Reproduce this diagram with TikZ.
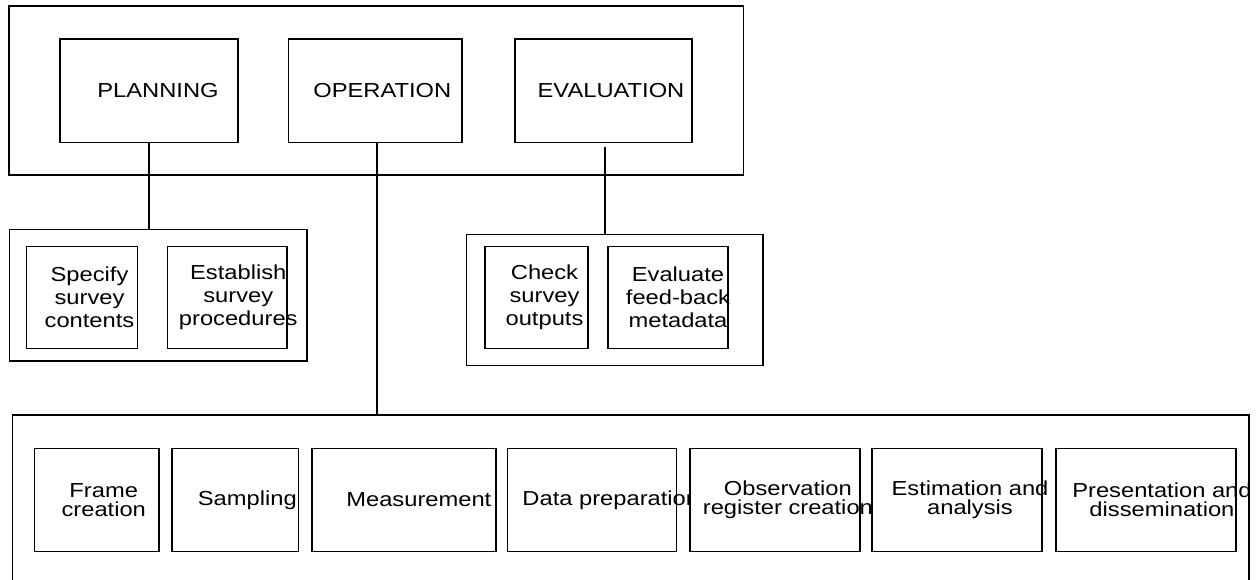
\documentclass[tikz,border=0pt]{standalone}
\usepackage{fontspec}
\setmainfont[FakeStretch=1.17]{Liberation Sans}
\usetikzlibrary{fit,calc}
\begin{document}
\begin{tikzpicture}[x=0.75pt,y=-0.75pt,
  box/.style={draw=black, line width=1.1pt, fill=white, inner sep=0pt, outer sep=0pt},
  lbl/.style={inner sep=0pt, align=center, text=black, font=\fontsize{15.2pt}{17.25pt}\selectfont},
  rowlbl/.style={inner sep=0pt, align=center, text=black, font=\fontsize{15.2pt}{14.6pt}\selectfont},
  link/.style={line width=1.1pt, draw=black}]
\useasboundingbox (0,0) rectangle (1256,580);
\clip (0,0) rectangle (1256,580);

% outer group boxes
\node[box, fit={(9,6) (743.5,175)}] (top) {};
\node[box, fit={(9.5,229.7) (307,361)}] (pgroup) {};
\node[box, fit={(466.5,234.3) (763,365.7)}] (egroup) {};
\node[box, fit={(12.7,415) (1249,620)}] (opgroup) {};

% top phase boxes
\node[box, fit={(60,39) (238,142.7)}] (planning) {};
\node[lbl] (planningtxt) at ($(planning.center)+(9,0)$) {PLANNING};
\node[box, fit={(288.5,39) (462,142.7)}] (operation) {};
\node[lbl] (operationtxt) at ($(operation.center)+(7,0)$) {OPERATION};
\node[box, fit={(515,39) (692,142.7)}] (evaluation) {};
\node[lbl] (evaluationtxt) at ($(evaluation.center)+(7.5,0)$) {EVALUATION};

% connectors
\draw[link] (planning.south) -- (planning.south |- pgroup.north);
\draw[link] ([xshift=1.2pt]operation.south) -- ([xshift=1.2pt]operation.south |- opgroup.north);
\draw[link] ([xshift=1pt,yshift=-3pt]evaluation.south) -- ([xshift=1pt]evaluation.south |- egroup.north);

% planning sub-steps
\node[box, fit={(26.5,246.7) (137.5,348.3)}] (specify) {};
\node[lbl] (specifytxt) at ($(specify.center)+(7.5,0)$) {Specify\\survey\\contents};
\node[box, fit={(167.5,246.7) (287,348.3)}] (establish) {};
\node[lbl] (establishtxt) at ($(establish.center)+(11,0)$) {Establish\\survey\\procedures};

% evaluation sub-steps
\node[box, fit={(485,246.7) (588,348.3)}] (check) {};
\node[lbl] (checktxt) at ($(check.center)+(8,0)$) {Check\\survey\\outputs};
\node[box, fit={(608,246.7) (728,348.3)}] (evalfb) {};
\node[lbl] (evalfbtxt) at ($(evalfb.center)+(10,0)$) {Evaluate\\feed-back\\metadata};

% operation sub-steps
\node[box, fit={(34.3,448.3) (159.2,551.7)}] (frame) {};
\node[rowlbl] (frametxt) at ($(frame.center)+(7,0)$) {Frame\\creation};
\node[box, fit={(172.2,448.3) (298.4,551.7)}] (sampling) {};
\node[rowlbl] (samplingtxt) at ($(sampling.center)+(12,0)$) {Sampling};
\node[box, fit={(311.8,448.3) (495.9,551.7)}] (measure) {};
\node[rowlbl] (measuretxt) at ($(measure.center)+(15,0)$) {Measurement};
\node[box, fit={(507.3,448.3) (676.3,551.7)}] (dataprep) {};
\node[rowlbl] (dataprentxt) at ($(dataprep.center)+(19,0)$) {Data preparation};
\node[box, fit={(689.8,448.3) (860,551.7)}] (obsreg) {};
\node[rowlbl] (obsregtxt) at ($(obsreg.center)+(13,0)$) {Observation\\register creation};
\node[box, fit={(872,448.3) (1042,551.7)}] (estim) {};
\node[rowlbl] (estimtxt) at ($(estim.center)+(13,0)$) {Estimation and\\analysis};
\node[box, fit={(1055.9,448.3) (1236,551.7)}] (present) {};
\node[rowlbl] (presenttxt) at ($(present.center)+(16,0)$) {Presentation and\\dissemination};
\end{tikzpicture}
\end{document}
